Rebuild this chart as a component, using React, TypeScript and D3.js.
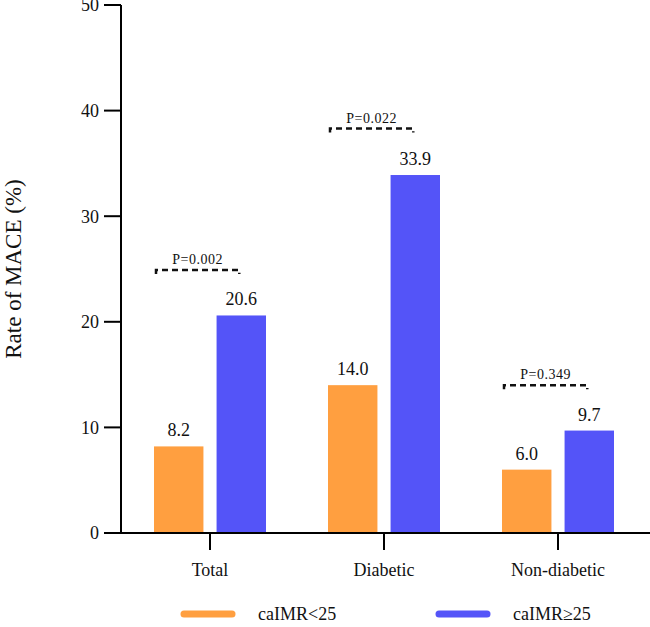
import { useMemo } from "react";
import * as d3 from "d3";

// ── Data ──────────────────────────────────────────────────────
const categories = ["Total", "Diabetic", "Non-diabetic"];
const groups = ["caIMR<25", "caIMR≥25"];
const lowValues = [8.2, 14.0, 6.0];
const highValues = [20.6, 33.9, 9.7];
const pLabels = ["P=0.002", "P=0.022", "P=0.349"];
const pLevels = [24.9, 38.3, 14.0];
const yTicks = [0, 10, 20, 30, 40, 50];

const colors = ["#FF9F40", "#5454F8"];
const W = 650, H = 627;
const FONT = "'Liberation Serif', 'Times New Roman', serif";

export default function App() {
  const y = useMemo(() => d3.scaleLinear().domain([0, 50]).range([533, 5]), []);
  const x = useMemo(() => d3.scaleBand().domain(categories).range([123, 645]).padding(0), []);
  const xSub = useMemo(
    () => d3.scaleBand().domain(groups).range([31, 143]).paddingInner(0.21).paddingOuter(0),
    []
  );
  const series = [lowValues, highValues];

  return (
    <svg width={W} height={H} style={{ position: "absolute", left: 0, top: 0, background: "#fff" }}
      fontFamily={FONT}>
      {/* bars */}
      {categories.map((c, i) => (
        <g key={c} transform={`translate(${x(c)},0)`}>
          {groups.map((g, k) => {
            const v = series[k][i];
            const bx = xSub(g) as number;
            return (
              <g key={g}>
                <rect x={bx} y={y(v)} width={xSub.bandwidth()} height={y(0) - y(v)} fill={colors[k]} />
                <text x={bx + xSub.bandwidth() / 2} y={y(v) - 10} textAnchor="middle" fontSize={18} fill="#111">
                  {v.toFixed(1)}
                </text>
              </g>
            );
          })}
          {(() => {
            const x1 = (xSub(groups[0]) as number) + 2;
            const x2 = (xSub(groups[1]) as number) + xSub.bandwidth() / 2 - 2;
            const py = y(pLevels[i]);
            return (
              <g>
                <path d={`M${x1},${py + 4}L${x1},${py}L${x2},${py}L${x2},${py + 4}`}
                  fill="none" stroke="#111" strokeWidth={2.5} strokeDasharray="6,4" />
                <text x={(x1 + x2) / 2} y={py - 6} textAnchor="middle" fontSize={14}
                  letterSpacing={0.5} fill="#111">
                  {pLabels[i]}
                </text>
              </g>
            );
          })()}
        </g>
      ))}

      {/* y axis */}
      <line x1={121} x2={121} y1={y(50)} y2={y(0)} stroke="#000" strokeWidth={2} />
      {yTicks.map((t) => (
        <g key={t}>
          <line x1={104} x2={121} y1={y(t)} y2={y(t)} stroke="#000" strokeWidth={2} />
          <text x={99} y={y(t)} dy="0.35em" textAnchor="end" fontSize={18} fill="#111">{t}</text>
        </g>
      ))}
      <text transform={`translate(21,${(y(0) + y(50)) / 2}) rotate(-90)`} textAnchor="middle"
        fontSize={23} fill="#111">Rate of MACE (%)</text>

      {/* x axis */}
      <line x1={104} x2={W} y1={y(0)} y2={y(0)} stroke="#000" strokeWidth={2} />
      {categories.map((c) => {
        const cx = (x(c) as number) + x.bandwidth() / 2;
        return (
          <g key={c}>
            <line x1={cx} x2={cx} y1={y(0)} y2={y(0) + 17} stroke="#000" strokeWidth={2} />
            <text x={cx} y={576} textAnchor="middle" fontSize={18} fill="#111">{c}</text>
          </g>
        );
      })}

      {/* legend */}
      {groups.map((g, k) => {
        const lx = 184 + k * 255;
        return (
          <g key={g}>
            <line x1={lx} x2={lx + 48} y1={614} y2={614} stroke={colors[k]} strokeWidth={7} strokeLinecap="round" />
            <text x={lx + 74} y={614} dy="0.35em" fontSize={18} fill="#111">{g}</text>
          </g>
        );
      })}
    </svg>
  );
}
